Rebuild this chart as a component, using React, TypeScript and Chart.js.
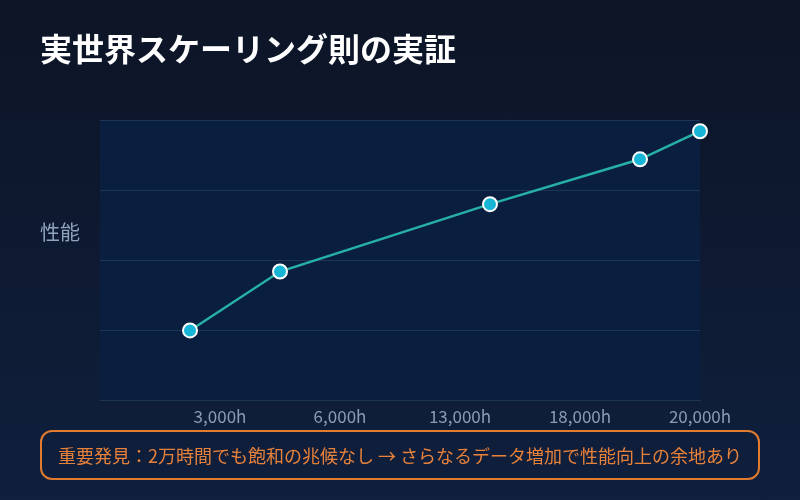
import React, { useEffect, useRef } from "react";
import { Chart, registerables } from "chart.js";

Chart.register(...registerables);

// training hours and measured performance (y ticks hidden in the original)
const hours = [3000, 6000, 13000, 18000, 20000];
const performance = [25, 46, 70, 86, 96];
const tickLabels = ["3,000h", "6,000h", "13,000h", "18,000h", "20,000h"];

const FONT = '"Noto Sans CJK JP", "Noto Sans", sans-serif';

// fills the plot area before the grid is drawn
const plotBackground = {
  id: "plotBackground",
  beforeDraw(chart: any) {
    const { ctx, chartArea } = chart;
    if (!chartArea) return;
    ctx.save();
    ctx.fillStyle = "#0a1f3f";
    ctx.fillRect(chartArea.left, chartArea.top, chartArea.right - chartArea.left, chartArea.bottom - chartArea.top);
    ctx.restore();
  },
};

export default function App() {
  const canvasRef = useRef<HTMLCanvasElement | null>(null);

  useEffect(() => {
    document.body.style.margin = "0";
    if (!canvasRef.current) return;

    const chart = new Chart(canvasRef.current, {
      type: "line",
      data: {
        datasets: [
          {
            data: hours.map((h, i) => ({ x: h, y: performance[i] })),
            borderColor: "#26b0a6",
            borderWidth: 2.5,
            pointRadius: 7,
            pointBackgroundColor: "#18b6d6",
            pointBorderColor: "#ffffff",
            pointBorderWidth: 2,
            tension: 0,
            clip: false,
          },
        ],
      },
      options: {
        responsive: false,
        animation: false,
        layout: { padding: { left: 100, right: 100, top: 120, bottom: 67 } },
        plugins: { legend: { display: false }, tooltip: { enabled: false } },
        scales: {
          x: {
            type: "linear",
            min: 0,
            max: 20000,
            grid: { display: false, drawTicks: false },
            border: { color: "#1f3556" },
            ticks: {
              stepSize: 4000,
              padding: 6,
              color: "#8a9bb5",
              font: { family: FONT, size: 17 },
              callback: (_v: any, i: number) => (i === 0 ? "" : tickLabels[i - 1]),
            },
          },
          y: {
            min: 0,
            max: 100,
            grid: { color: "#1f3556", drawTicks: false },
            border: { display: false },
            ticks: { stepSize: 25, display: false },
          },
        },
      },
      plugins: [plotBackground],
    });

    return () => chart.destroy();
  }, []);

  return (
    <div
      style={{
        position: "relative",
        width: 800,
        height: 500,
        overflow: "hidden",
        background: "linear-gradient(180deg, #0d1526 0%, #0f1f3d 100%)",
        fontFamily: FONT,
      }}
    >
      <canvas ref={canvasRef} width={800} height={500} style={{ position: "absolute", left: 0, top: 0 }} />
      <div style={{ position: "absolute", left: 40, top: 26, color: "#ffffff", fontSize: 32, fontWeight: 700, lineHeight: "42px" }}>
        実世界スケーリング則の実証
      </div>
      <div style={{ position: "absolute", left: 40, top: 218, color: "#8fa3bf", fontSize: 20, lineHeight: "28px" }}>
        性能
      </div>
      <div
        style={{
          position: "absolute",
          left: 40,
          top: 430,
          width: 720,
          height: 50,
          boxSizing: "border-box",
          border: "2px solid #e07b30",
          borderRadius: 12,
          color: "#e8823a",
          fontSize: 18,
          display: "flex",
          alignItems: "center",
          justifyContent: "center",
        }}
      >
        重要発見：2万時間でも飽和の兆候なし → さらなるデータ増加で性能向上の余地あり
      </div>
    </div>
  );
}
